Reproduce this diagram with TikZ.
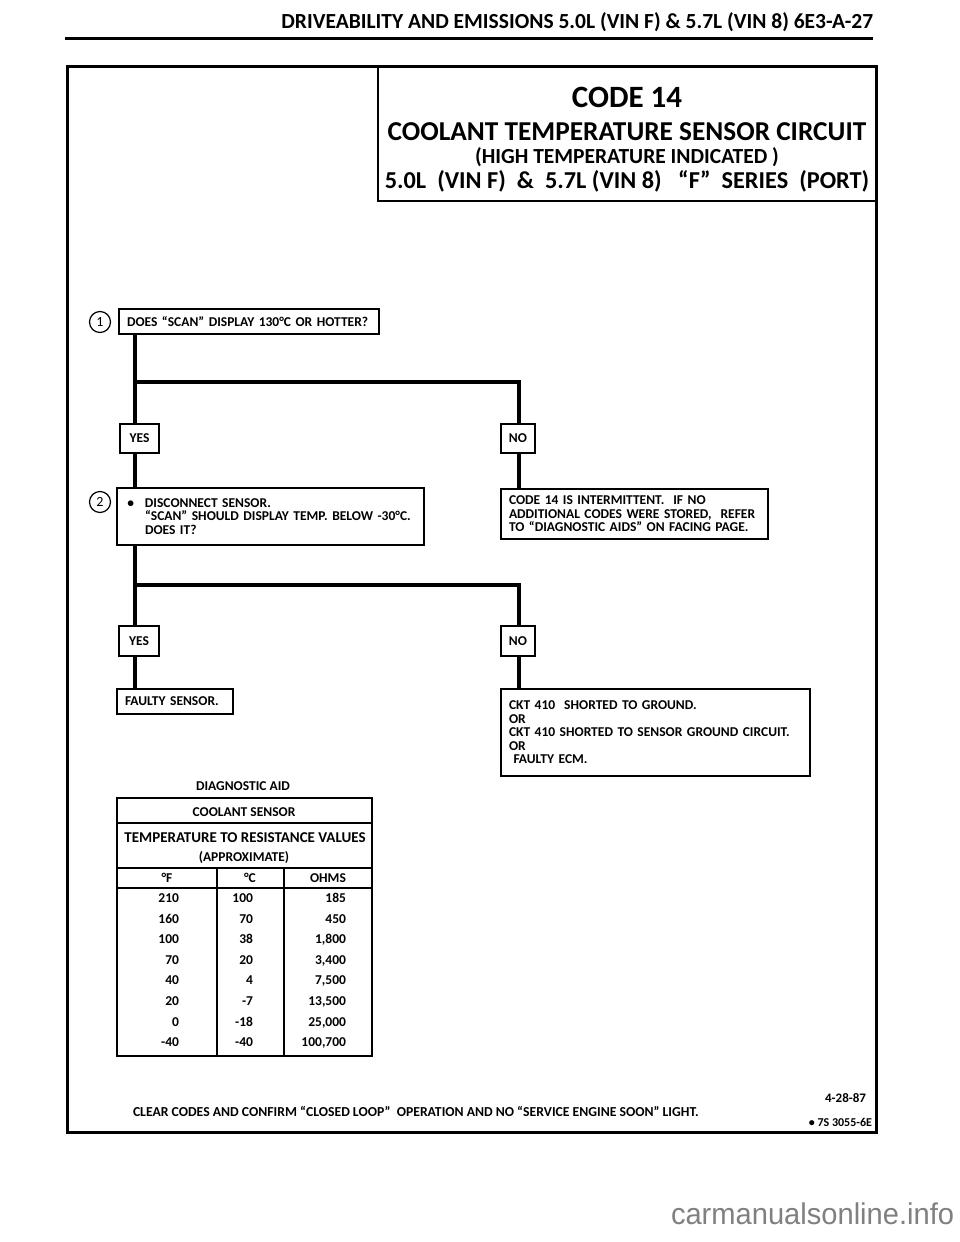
\documentclass[tikz,border=0pt]{standalone}
\usepackage{fontspec}
\setmainfont{Carlito}
\newfontfamily\wmfont{Liberation Sans}
\newcommand\fsz[1]{\fontsize{#1}{#1}\selectfont}
\begin{document}
\begin{tikzpicture}[x=1pt,y=-1pt,
  every node/.style={inner sep=0pt, outer sep=0pt},
  box/.style={draw, line width=1.4pt, anchor=north west, font=\fsz{13.5}\bfseries},
  lbox/.style={box, align=left, inner xsep=8pt},
  conn/.style={line width=4pt},
  num/.style={draw, circle, line width=1.2pt, minimum size=21pt, font=\fsz{14}},
  tt/.style={font=\fsz{13.5}\bfseries},
  cell/.style={tt, anchor=base east},
  frame/.style={line width=3pt},
]
\useasboundingbox (0,0) rectangle (960,1242);
\fill[white] (0,0) rectangle (960,1242);

% header
\node[anchor=east, font=\fsz{21.5}\bfseries] (hdr) at (873,22) {DRIVEABILITY AND EMISSIONS 5.0L (VIN F) \& 5.7L (VIN 8) 6E3-A-27};
\draw[frame] (65,38) -- (873,38);

% frame and title box
\draw[frame] (67,66) rectangle (876,1132);
\draw[line width=2pt] (378,66) -- (378,201) -- (876,201);
\node[font=\fsz{31}\bfseries] (t1) at (627,97) {CODE 14};
\node[font=\fsz{27.3}\bfseries] (t2) at (627,132) {COOLANT TEMPERATURE SENSOR CIRCUIT};
\node[font=\fsz{21.5}\bfseries] (t3) at (627,157) {(HIGH TEMPERATURE INDICATED )};
\node[font=\fsz{24.3}\bfseries] (t4) at (627,181) {5.0L\ \ (VIN F)\ \ \&\ \ 5.7L (VIN 8)\ \ \ “F”\ \ SERIES\ \ (PORT)};

% trunk positions
\coordinate (L) at (135,0);
\coordinate (R) at (519,0);

% step 1
\node[num] (c1) at (100,322) {1};
\node[lbox, text width=244pt, minimum height=25pt] (s1) at (119,309) {\mbox{DOES “SCAN” DISPLAY 130°C OR HOTTER?}};
\node[box, minimum width=39pt, minimum height=29pt] (yes1) at (120,424) {YES};
\node[box, minimum width=34pt, minimum height=29pt] (no1) at (501,424) {NO};
\coordinate (b1) at (135,382);

% step 2
\node[num] (c2) at (100,502) {2};
\node[lbox, text width=291pt, minimum height=57pt] (s2) at (117,488)
  {\mbox{\makebox[20pt][l]{\,•}DISCONNECT SENSOR.}\\\mbox{\hspace*{20pt}“SCAN” SHOULD DISPLAY TEMP. BELOW -30°C.}\\\mbox{\hspace*{20pt}DOES IT?}};
\node[lbox, text width=251pt, minimum height=50pt] (nt) at (501,489)
  {\mbox{CODE 14 IS INTERMITTENT.\ \ IF NO}\\\mbox{ADDITIONAL CODES WERE STORED,\ \ REFER}\\\mbox{TO “DIAGNOSTIC AIDS” ON FACING PAGE.}};
\node[box, minimum width=40pt, minimum height=30pt] (yes2) at (119,626) {YES};
\node[box, minimum width=34pt, minimum height=30pt] (no2) at (501,626) {NO};
\coordinate (b2) at (135,585);

% results
\node[lbox, text width=100pt, minimum height=25pt] (fs) at (117,689) {\mbox{FAULTY SENSOR.}};
\node[lbox, text width=293pt, minimum height=87pt] (ckt) at (501,689)
  {\mbox{CKT 410\ \ SHORTED TO GROUND.}\\OR\\\mbox{CKT 410 SHORTED TO SENSOR GROUND CIRCUIT.}\\OR\\\mbox{\ FAULTY ECM.}};

% connectors
\draw[conn] (s1.south -| L) -- (yes1.north -| L);
\draw[conn] (b1) -| (no1.north -| R);
\draw[conn] (yes1.south -| L) -- (s2.north -| L);
\draw[conn] (no1.south -| R) -- (nt.north -| R);
\draw[conn] (s2.south -| L) -- (yes2.north -| L);
\draw[conn] (b2) -| (no2.north -| R);
\draw[conn] (yes2.south -| L) -- (fs.north -| L);
\draw[conn] (no2.south -| R) -- (ckt.north -| R);

% diagnostic aid table
\node[tt] (da) at (243,786) {DIAGNOSTIC AID};
\draw[line width=1.4pt] (117,798) rectangle (372,1056);
\draw[line width=1.2pt] (117,823) -- (372,823);
\draw[line width=1.2pt] (117,868) -- (372,868);
\draw[line width=1.2pt] (117,888) -- (372,888);
\draw[line width=1.2pt] (217,868) -- (217,1056);
\draw[line width=1.2pt] (284,868) -- (284,1056);
\node[tt] (th1) at (244,812) {COOLANT SENSOR};
\node[font=\fsz{15}\bfseries] (th2) at (245,838) {TEMPERATURE TO RESISTANCE VALUES};
\node[tt] (th3) at (244,858) {(APPROXIMATE)};
\node[tt, anchor=base] (hF) at (167,882.5) {°F};
\node[tt, anchor=base] (hC) at (250,882.5) {°C};
\node[tt, anchor=base] (hO) at (328,882.5) {OHMS};
\foreach \f/\c/\o [count=\i from 0] in {210/100/185,160/70/450,100/38/{1,800},70/20/{3,400},40/4/{7,500},20/-7/{13,500},0/-18/{25,000},-40/-40/{100,700}}{
  \node[cell] (rf\i) at (179,902.5+20.6*\i) {\f};
  \node[cell] (rc\i) at (253,902.5+20.6*\i) {\c};
  \node[cell] (ro\i) at (346,902.5+20.6*\i) {\o};
}

% footer
\node[font=\fsz{13.7}\bfseries, anchor=west] (clr) at (133,1111) {CLEAR CODES AND CONFIRM “CLOSED LOOP”\ \ OPERATION AND NO “SERVICE ENGINE SOON” LIGHT.};
\node[font=\fsz{13}\bfseries, anchor=east] (dt) at (866,1098) {4-28-87};
\node[font=\fsz{12}\bfseries, anchor=east] (cd) at (872,1122) {• 7S 3055-6E};

% watermark
\node[font=\wmfont\fsz{30}, text=black!50, anchor=west] (wm) at (671,1214) {\scalebox{0.97}[1]{carmanualsonline.info}};
\end{tikzpicture}
\end{document}
